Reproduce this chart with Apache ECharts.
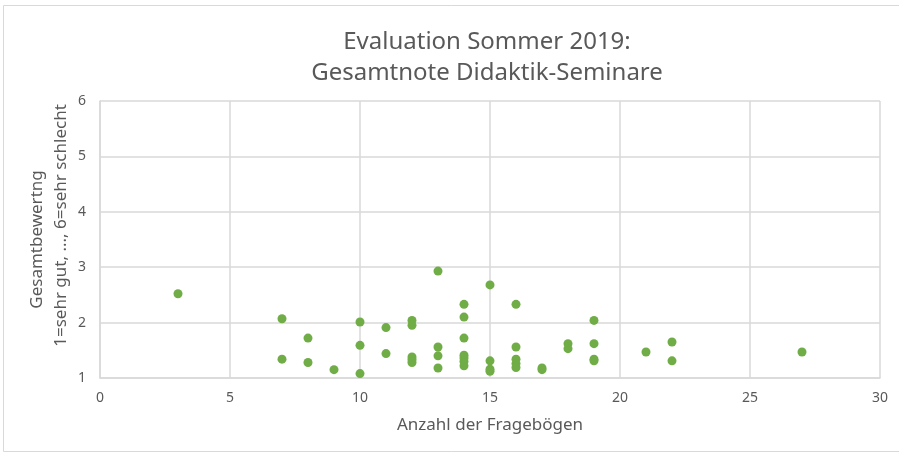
<!DOCTYPE html>
<html>
<head>
<meta charset="utf-8">
<script src="https://cdn.jsdelivr.net/npm/echarts@6/dist/echarts.min.js"></script>
<style>
  html, body { margin: 0; padding: 0; background: #fff; }
  #main { width: 899px; height: 453px; }
</style>
</head>
<body>
<div id="main"></div>
<script>
  // Anzahl der Fragebögen (x) und Gesamtbewertung (y)
  var fragebogen = [3, 7, 7, 8, 8, 9, 10, 10, 10, 11, 11,
    12, 12, 12, 12, 12, 13, 13, 13, 13,
    14, 14, 14, 14, 14, 14, 14, 15, 15, 15, 15,
    16, 16, 16, 16, 16, 17, 17, 18, 18, 19, 19, 19, 19, 21, 22, 22, 27];
  var bewertung = [2.52, 2.07, 1.34, 1.72, 1.28, 1.15, 2.01, 1.59, 1.08, 1.91, 1.44,
    2.04, 1.95, 1.38, 1.33, 1.28, 2.93, 1.56, 1.40, 1.18,
    2.33, 2.10, 1.72, 1.41, 1.36, 1.30, 1.22, 2.68, 1.31, 1.16, 1.12,
    2.33, 1.56, 1.34, 1.26, 1.19, 1.18, 1.15, 1.62, 1.53, 2.04, 1.62, 1.34, 1.31, 1.47, 1.65, 1.31, 1.47];

  var points = fragebogen.map(function (x, i) { return [x, bewertung[i]]; });

  var textColor = '#595959';
  var gridColor = '#d9d9d9';
  var font = '"Noto Sans", "Open Sans", sans-serif';

  var myChart = echarts.init(document.getElementById('main'));
  var option = {
    animation: false,
    backgroundColor: '#fff',
    title: {
      text: 'Evaluation Sommer 2019:\nGesamtnote Didaktik-Seminare',
      left: 482,
      top: 22,
      textAlign: 'center',
      textStyle: { color: textColor, fontSize: 24, fontWeight: 'normal', fontFamily: font, lineHeight: 31 }
    },
    graphic: [{
      type: 'rect',
      shape: { x: 3.5, y: 5.5, width: 900, height: 446 },
      style: { fill: 'none', stroke: '#d9d9d9', lineWidth: 1 },
      silent: true
    }],
    grid: { left: 100, right: 19, top: 101, bottom: 75 },
    xAxis: {
      type: 'value',
      min: 0, max: 30, interval: 5,
      name: 'Anzahl der Fragebögen',
      nameLocation: 'middle',
      nameGap: 39,
      nameTextStyle: { color: textColor, fontSize: 17, fontFamily: font },
      axisLine: { show: true, lineStyle: { color: gridColor, width: 1.5 } },
      axisTick: { show: false },
      axisLabel: { color: textColor, fontSize: 14, fontFamily: font, margin: 13 },
      splitLine: { show: true, lineStyle: { color: gridColor, width: 1.5 } }
    },
    yAxis: {
      type: 'value',
      min: 1, max: 6, interval: 1,
      name: '{a|Gesamtbewertng}\n{b|1=sehr gut, ..., 6=sehr schlecht}',
      nameLocation: 'middle',
      nameGap: 27,
      nameMoveOverlap: false,
      nameRotate: 90,
      nameTextStyle: {
        color: textColor, fontSize: 17, fontFamily: font, lineHeight: 24,
        rich: {
          a: { color: textColor, fontSize: 17, fontFamily: font, lineHeight: 24 },
          b: { color: textColor, fontSize: 17, fontFamily: font, lineHeight: 24, padding: [0, 0, 0, 28] }
        }
      },
      axisLine: { show: true, lineStyle: { color: gridColor, width: 1.5 } },
      axisTick: { show: false },
      axisLabel: { color: textColor, fontSize: 14, fontFamily: font, margin: 14 },
      splitLine: { show: true, lineStyle: { color: gridColor, width: 1.5 } }
    },
    series: [{
      type: 'scatter',
      data: points,
      symbolSize: 9,
      itemStyle: { color: '#70ad47', opacity: 1 }
    }]
  };
  myChart.setOption(option);
</script>
</body>
</html>
